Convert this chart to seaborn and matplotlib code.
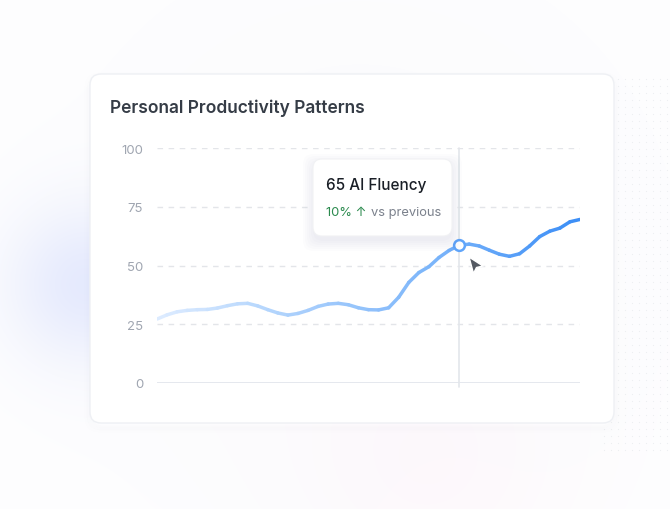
import numpy as np
import pandas as pd
import matplotlib
matplotlib.use('Agg')
import matplotlib.pyplot as plt
import seaborn as sns
from matplotlib.patches import FancyBboxPatch, Polygon
from matplotlib.colors import LinearSegmentedColormap, to_hex

# data (one point per day)
days = list(range(43))
fluency = [27.2, 29.0, 30.3, 30.9, 31.2, 31.3, 31.9, 32.9, 33.7, 33.9,
           32.8, 31.2, 29.8, 28.9, 29.6, 30.9, 32.6, 33.6, 33.9, 33.3,
           32.0, 31.2, 31.1, 32.0, 36.5, 42.8, 47.0, 49.5, 53.4, 56.4,
           58.6, 59.1, 58.3, 56.5, 54.8, 53.9, 55.0, 58.3, 62.3, 64.6,
           65.9, 68.6, 69.6]
yticks = [0, 25, 50, 75, 100]
hover_day = 30
hover_value = 65
hover_label = 'AI Fluency'
hover_change = '10%'
title = 'Personal Productivity Patterns'

sns.set_theme(style='white')
plt.rcParams['font.family'] = ['Inter', 'DejaVu Sans']

W, H = 670, 510
fig = plt.figure(figsize=(W / 100, H / 100), dpi=100)

# background with soft glows
bg = fig.add_axes([0, 0, 1, 1])
yy, xx = np.mgrid[0:H, 0:W]
img = np.ones((H, W, 3))
def glow(cx, cy, s, rgb, a):
    w = a * np.exp(-((xx - cx) ** 2 + (yy - cy) ** 2) / (2 * s * s))
    for k in range(3):
        img[..., k] = img[..., k] * (1 - w) + rgb[k] * w
glow(360, 260, 280, (0.975, 0.975, 0.99), 0.6)
glow(85, 285, 55, (0.84, 0.87, 0.99), 0.6)
glow(430, 465, 90, (1.0, 0.94, 0.97), 0.3)
bg.imshow(img, extent=(0, W, H, 0), aspect='auto')
# faint dot pattern on the right
gx, gy = np.meshgrid(np.arange(604, 668, 7), np.arange(80, 455, 7))
bg.scatter(gx.ravel(), gy.ravel(), s=0.7, color='#eceef1', linewidths=0)
bg.set_xlim(0, W); bg.set_ylim(H, 0); bg.axis('off')

# card
for i, a in enumerate([0.015, 0.01, 0.008]):
    bg.add_patch(FancyBboxPatch((90 - i * 2, 77 - i * 2 + 2), 524 + i * 4, 349 + i * 4,
                                boxstyle='round,pad=0,rounding_size=14',
                                fc='none', ec='#8090a8', lw=2, alpha=a))
bg.add_patch(FancyBboxPatch((90, 75), 524, 349, boxstyle='round,pad=0,rounding_size=11',
                            fc='white', ec='#eef0f4', lw=1))
bg.text(110, 108, title, fontsize=12.5, fontweight='semibold', color='#353c46',
        va='center', ha='left')

# chart
ax = fig.add_axes([157 / W, (H - 384) / H, 423 / W, 235 / H])
ax.patch.set_alpha(0)
rows = []
for i in range(len(days) - 1):
    rows.append((i, days[i], fluency[i]))
    rows.append((i, days[i + 1], fluency[i + 1]))
seg = pd.DataFrame(rows, columns=['seg', 'day', 'value'])
cmap = LinearSegmentedColormap.from_list('blu', ['#dcebff', '#a9cffc', '#7ab4fa', '#3d8ff6'])
pal = [to_hex(cmap(i / (len(days) - 2))) for i in range(len(days) - 1)]
sns.lineplot(data=seg, x='day', y='value', hue='seg', palette=pal, legend=False,
             linewidth=2.5, solid_capstyle='round', ax=ax, zorder=3)

ax.set_xlim(days[0], days[-1])
ax.set_ylim(0, 100)
ax.set_yticks(yticks)
ax.set_xticks([])
ax.set_xlabel('')
ax.set_ylabel('')
ax.yaxis.grid(True, ls=(0, (4, 4)), color='#e3e5e9', lw=1)
ax.axhline(0, color='#e5e8ee', lw=1.4, zorder=1)
for s in ax.spines.values():
    s.set_visible(False)
ax.tick_params(axis='y', length=0, pad=10, labelcolor='#a0a6b1', labelsize=9.5)

ax.axvline(days[hover_day], ymin=-4 / 235, ymax=1, color='#e3e6eb', lw=1.2,
           clip_on=False, zorder=2)
ax.scatter([days[hover_day]], [fluency[hover_day]], s=60, fc='white', ec='#60a5fa',
           lw=1.8, zorder=5)

# overlay: tooltip and cursor
ov = fig.add_axes([0, 0, 1, 1], zorder=5)
ov.set_xlim(0, W); ov.set_ylim(H, 0); ov.axis('off')
ov.patch.set_alpha(0)
for i in range(6):
    ov.add_patch(FancyBboxPatch((313 - i * 2, 162 - i * 2 + 3), 139 + i * 4, 77 + i * 4,
                                boxstyle='round,pad=0,rounding_size=10',
                                fc='#334155', ec='none', alpha=0.011))
ov.add_patch(FancyBboxPatch((313, 160), 139, 77, boxstyle='round,pad=0,rounding_size=9',
                            fc='white', ec='#f1f2f4', lw=0.8))
ov.text(326, 186, f'{hover_value} {hover_label}', fontsize=11, color='#1a1f27',
        fontweight='medium', va='center', ha='left')
ov.text(326, 213, f'{hover_change} \u2191', fontsize=9.3, color='#2b8a4e',
        va='center', ha='left')
ov.text(371, 213, 'vs previous', fontsize=9.3, color='#7b818c', va='center', ha='left')

ov.add_patch(Polygon([(469, 258), (483, 267), (476.5, 268.5), (473.5, 274.5)],
                     closed=True, fc='#545962', ec='white', lw=1, joinstyle='round'))

fig.savefig('out.png', dpi=100)
